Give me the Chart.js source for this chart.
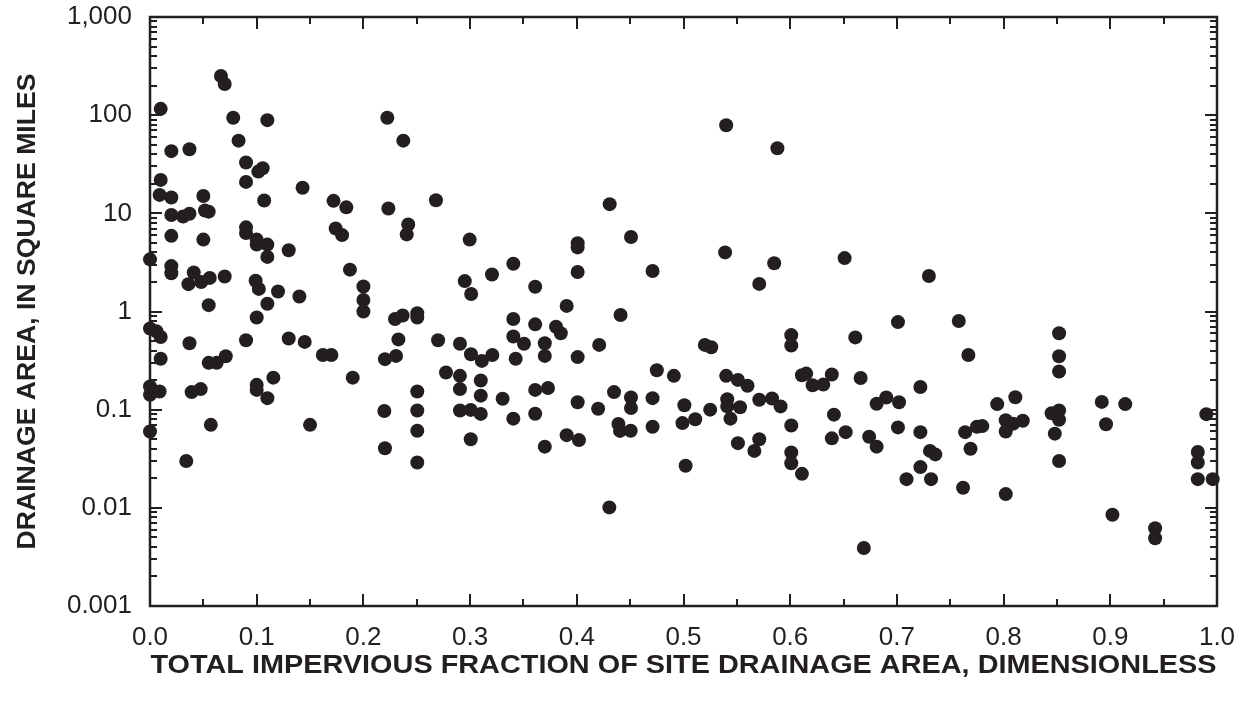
<!DOCTYPE html>
<html>
<head>
<meta charset="utf-8">
<script src="https://cdn.jsdelivr.net/npm/chart.js@4.4.1/dist/chart.umd.min.js"></script>
<style>
  html, body { margin: 0; padding: 0; background: #fff; }
</style>
</head>
<body>
<canvas id="myChart" width="1247" height="706"></canvas>
<script>
// total impervious fraction of each site's drainage area
var impervious = [
  0.0665, 0.070, 0.010, 0.078, 0.110, 0.083, 0.020, 0.037, 0.090, 0.1015,
  0.1056, 0.090, 0.010, 0.143, 0.009, 0.020, 0.050, 0.107, 0.172, 0.020,
  0.031, 0.037, 0.0515, 0.055, 0.090, 0.090, 0.174, 0.100, 0.100, 0.110,
  0.110, 0.020, 0.050, 0.130, 0.000, 0.020, 0.020, 0.041, 0.036, 0.048,
  0.056, 0.070, 0.055, 0.099, 0.102, 0.120, 0.110, 0.140, 0.100, 0.000,
  0.006, 0.010, 0.037, 0.090, 0.130, 0.145, 0.010, 0.055, 0.0625, 0.071,
  0.162, 0.170, 0.000, 0.000, 0.009, 0.039, 0.0475, 0.100, 0.100, 0.1156,
  0.110, 0.000, 0.057, 0.150, 0.034,

  0.2224, 0.2374, 0.184, 0.2234, 0.268, 0.180, 0.242, 0.2406, 0.2996, 0.1874,
  0.295, 0.301, 0.3205, 0.3405, 0.361, 0.200, 0.200, 0.200, 0.2296, 0.2368,
  0.2505, 0.2505, 0.3405, 0.361, 0.2328, 0.270, 0.2905, 0.3405, 0.3505, 0.370,
  0.370, 0.3427, 0.3008, 0.311, 0.3208, 0.2202, 0.2306, 0.190, 0.2774, 0.2905,
  0.2905, 0.310, 0.310, 0.310, 0.2505, 0.2505, 0.2505, 0.2505, 0.2196, 0.2202,
  0.2905, 0.3006, 0.3006, 0.3305, 0.3405, 0.361, 0.361, 0.373, 0.370,

  0.540, 0.588, 0.4308, 0.4508, 0.4008, 0.4008, 0.4008, 0.471, 0.539, 0.585,
  0.571, 0.3905, 0.441, 0.3805, 0.385, 0.421, 0.4008, 0.520, 0.526, 0.475,
  0.491, 0.540, 0.551, 0.560, 0.4008, 0.4349, 0.4508, 0.4508, 0.420, 0.471,
  0.5008, 0.525, 0.541, 0.541, 0.553, 0.544, 0.571, 0.583, 0.591, 0.439,
  0.4405, 0.4505, 0.471, 0.499, 0.511, 0.3905, 0.402, 0.551, 0.571, 0.5664,
  0.502, 0.4305,

  0.651, 0.730, 0.701, 0.758, 0.601, 0.601, 0.661, 0.852, 0.767, 0.852,
  0.852, 0.611, 0.615, 0.639, 0.666, 0.621, 0.631, 0.722, 0.690, 0.681,
  0.702, 0.794, 0.811, 0.892, 0.914, 0.845, 0.852, 0.852, 0.990, 0.601,
  0.641, 0.639, 0.652, 0.674, 0.681, 0.701, 0.722, 0.731, 0.736, 0.722,
  0.709, 0.732, 0.762, 0.764, 0.769, 0.775, 0.780, 0.802, 0.802, 0.809,
  0.818, 0.802, 0.848, 0.852, 0.896, 0.902, 0.942, 0.942, 0.982, 0.982,
  0.982, 0.996, 0.669, 0.601, 0.601, 0.611
];

// drainage area, square miles (same order as above)
var drainageArea = [
  251, 208, 116, 94, 89, 55, 43, 45, 33, 26.6,
  28.8, 20.9, 21.9, 18.2, 15.4, 14.5, 15.0, 13.5, 13.4, 9.6,
  9.3, 9.9, 10.7, 10.4, 7.2, 6.3, 7.0, 5.4, 4.8, 4.8,
  3.6, 5.9, 5.4, 4.2, 3.4, 2.9, 2.45, 2.5, 1.9, 2.0,
  2.2, 2.27, 1.16, 2.06, 1.7, 1.6, 1.2, 1.42, 0.87, 0.67,
  0.63, 0.55, 0.475, 0.51, 0.53, 0.49, 0.33, 0.30, 0.30, 0.35,
  0.36, 0.36, 0.172, 0.142, 0.153, 0.151, 0.162, 0.179, 0.159, 0.212,
  0.131, 0.060, 0.070, 0.070, 0.030,

  94, 55, 11.5, 11.2, 13.6, 6.0, 7.7, 6.1, 5.4, 2.67,
  2.04, 1.51, 2.38, 3.07, 1.79, 1.8, 1.31, 1.0, 0.84, 0.91,
  0.96, 0.87, 0.84, 0.74, 0.52, 0.51, 0.47, 0.556, 0.47, 0.475,
  0.353, 0.33, 0.367, 0.314, 0.361, 0.327, 0.353, 0.212, 0.239, 0.221,
  0.162, 0.198, 0.139, 0.0906, 0.153, 0.098, 0.061, 0.029, 0.097, 0.0405,
  0.098, 0.0995, 0.050, 0.129, 0.081, 0.159, 0.091, 0.166, 0.042,

  79, 46, 12.4, 5.75, 4.96, 4.5, 2.53, 2.59, 4.0, 3.1,
  1.91, 1.14, 0.92, 0.70, 0.60, 0.457, 0.343, 0.457, 0.433, 0.252,
  0.221, 0.221, 0.201, 0.175, 0.119, 0.151, 0.133, 0.104, 0.102, 0.131,
  0.111, 0.100, 0.128, 0.108, 0.106, 0.081, 0.126, 0.130, 0.108, 0.0716,
  0.0608, 0.061, 0.067, 0.073, 0.080, 0.055, 0.049, 0.0456, 0.050, 0.038,
  0.0268, 0.0101,

  3.5, 2.3, 0.78, 0.80, 0.575, 0.45, 0.545, 0.60, 0.36, 0.35,
  0.245, 0.224, 0.233, 0.228, 0.21, 0.177, 0.18, 0.17, 0.133, 0.115,
  0.119, 0.114, 0.134, 0.12, 0.114, 0.092, 0.098, 0.079, 0.09, 0.069,
  0.089, 0.051, 0.059, 0.053, 0.042, 0.066, 0.059, 0.038, 0.035, 0.026,
  0.0196, 0.0196, 0.016, 0.059, 0.040, 0.067, 0.068, 0.078, 0.060, 0.072,
  0.077, 0.0138, 0.057, 0.030, 0.071, 0.0085, 0.0062, 0.0049, 0.037, 0.029,
  0.0196, 0.0196, 0.0039, 0.0366, 0.0285, 0.0222
];

var xTicks = [0, 0.1, 0.2, 0.3, 0.4, 0.5, 0.6, 0.7, 0.8, 0.9, 1.0];
var xTickLabels = ['0.0', '0.1', '0.2', '0.3', '0.4', '0.5', '0.6', '0.7', '0.8', '0.9', '1.0'];
var yTicks = [0.001, 0.01, 0.1, 1, 10, 100, 1000];
var yTickLabels = ['0.001', '0.01', '0.1', '1', '10', '100', '1,000'];

var xTitle = 'TOTAL IMPERVIOUS FRACTION OF SITE DRAINAGE AREA, DIMENSIONLESS';
var yTitle = 'DRAINAGE AREA, IN SQUARE MILES';

var ink = '#231f20';
var labelFont = { family: '"Liberation Sans", Arial, Helvetica, sans-serif', size: 26 };

// box around the plot plus inward tick marks on all four sides
var frameTicks = {
  id: 'frameTicks',
  beforeDatasetsDraw: function (chart) {
    var ctx = chart.ctx, a = chart.chartArea, x = chart.scales.x, y = chart.scales.y;
    ctx.save();
    ctx.strokeStyle = ink;
    ctx.lineWidth = 2;
    ctx.beginPath();
    for (var d = -3; d <= 3; d++) {
      for (var k = 1; k <= 9; k++) {
        var v = k * Math.pow(10, d);
        if (v > 1000.001) break;
        var py = Math.round(y.getPixelForValue(v));
        var len = k === 1 ? 12 : 7;
        ctx.moveTo(a.left, py); ctx.lineTo(a.left + len, py);
        ctx.moveTo(a.right, py); ctx.lineTo(a.right - len, py);
      }
    }
    for (var i = 0; i <= 20; i++) {
      var px = Math.round(x.getPixelForValue(i * 0.05));
      var l = i % 2 === 0 ? 12 : 7;
      ctx.moveTo(px, a.bottom); ctx.lineTo(px, a.bottom - l);
      ctx.moveTo(px, a.top); ctx.lineTo(px, a.top + l);
    }
    ctx.stroke();
    ctx.lineWidth = 2.5;
    ctx.strokeRect(a.left, a.top, a.right - a.left, a.bottom - a.top);
    ctx.restore();
  },
  afterDraw: function (chart) {
    var ctx = chart.ctx, a = chart.chartArea;
    function stretched(text, cx, cy, width, angle) {
      ctx.save();
      ctx.font = 'bold 26px "Liberation Sans", Arial, Helvetica, sans-serif';
      ctx.fillStyle = ink;
      ctx.textAlign = 'center';
      ctx.textBaseline = 'middle';
      ctx.translate(cx, cy);
      ctx.rotate(angle);
      var w = ctx.measureText(text).width;
      ctx.scale(width / w, 1);
      ctx.fillText(text, 0, 0);
      ctx.restore();
    }
    stretched(xTitle, (a.left + a.right) / 2, 666, 1066, 0);
    stretched(yTitle, 28, (a.top + a.bottom) / 2, 476, -Math.PI / 2);
  }
};

var ctx = document.getElementById('myChart');
var myChart = new Chart(ctx, {
  type: 'scatter',
  data: {
    datasets: [{
      data: impervious.map(function (v, i) { return { x: v, y: drainageArea[i] }; }),
      pointRadius: 7,
      pointHoverRadius: 7,
      pointBackgroundColor: ink,
      pointBorderWidth: 0,
      clip: false
    }]
  },
  options: {
    responsive: false,
    animation: false,
    devicePixelRatio: 1,
    layout: { padding: { top: 17, right: 30, left: 0, bottom: 0 } },
    plugins: { legend: { display: false }, tooltip: { enabled: false } },
    scales: {
      x: {
        type: 'linear',
        min: 0,
        max: 1,
        grid: { display: false, drawTicks: false },
        border: { display: false },
        afterBuildTicks: function (scale) {
          scale.ticks = xTicks.map(function (v) { return { value: v }; });
        },
        afterFit: function (scale) {
          scale.height = 100;
          scale.paddingLeft = 0;
          scale.paddingRight = 0;
        },
        ticks: {
          autoSkip: false,
          maxRotation: 0,
          padding: 16,
          color: ink,
          font: labelFont,
          callback: function (v, i) { return xTickLabels[i]; }
        }
      },
      y: {
        type: 'logarithmic',
        min: 0.001,
        max: 1000,
        grid: { display: false, drawTicks: false },
        border: { display: false },
        afterBuildTicks: function (scale) {
          scale.ticks = yTicks.map(function (v) { return { value: v }; });
        },
        afterFit: function (scale) {
          scale.width = 150;
          scale.paddingTop = 0;
          scale.paddingBottom = 0;
        },
        ticks: {
          autoSkip: false,
          padding: 18,
          color: ink,
          font: labelFont,
          callback: function (v, i) { return yTickLabels[i]; }
        }
      }
    }
  },
  plugins: [frameTicks]
});
</script>
</body>
</html>
